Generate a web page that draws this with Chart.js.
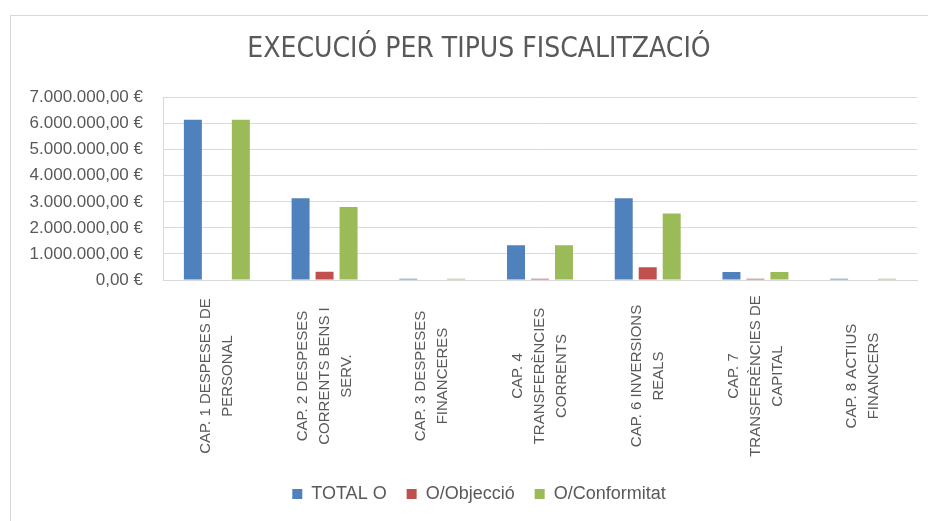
<!DOCTYPE html>
<html>
<head>
<meta charset="utf-8">
<script src="https://cdn.jsdelivr.net/npm/chart.js@4.4.1/dist/chart.umd.min.js"></script>
<style>
  html, body { margin: 0; padding: 0; background: #ffffff; }
  #wrap { position: relative; width: 928px; height: 521px; overflow: hidden; }
  #frame {
    position: absolute; left: 10px; top: 15px; right: -5px; bottom: -5px;
    border-top: 1px solid #d9d9d9; border-left: 1px solid #d9d9d9;
  }
  #chart { position: absolute; left: 0; top: 0; }
</style>
</head>
<body>
<div id="wrap">
  <div id="frame"></div>
  <canvas id="chart" width="928" height="521"></canvas>
</div>
<script>
const categories = [
  ['CAP. 1 DESPESES DE', 'PERSONAL'],
  ['CAP. 2 DESPESES', 'CORRENTS BENS I', 'SERV.'],
  ['CAP. 3 DESPESES', 'FINANCERES'],
  ['CAP. 4', 'TRANSFERÈNCIES', 'CORRENTS'],
  ['CAP. 6 INVERSIONS', 'REALS'],
  ['CAP. 7', 'TRANSFERÈNCIES DE', 'CAPITAL'],
  ['CAP. 8 ACTIUS', 'FINANCERS'],
];

const seriesNames = ['TOTAL O', 'O/Objecció', 'O/Conformitat'];
const totalO = [6150000, 3140000, 50000, 1330000, 3140000, 310000, 50000];
const objeccio = [0, 320000, 0, 50000, 490000, 50000, 0];
const conformitat = [6150000, 2800000, 50000, 1330000, 2550000, 310000, 50000];

const yMax = 7000000;
const yStep = 1000000;

const textColor = '#595959';
const gridColor = '#d9d9d9';

// 1234567 -> "1.234.567,00 €"
function euro(v) {
  const parts = v.toFixed(2).split('.');
  return parts[0].replace(/\B(?=(\d{3})+(?!\d))/g, '.') + ',' + parts[1] + ' €';
}

// rotated category labels, lines centred like in Excel
const centeredXLabels = {
  id: 'centeredXLabels',
  afterDraw(chart) {
    const ctx = chart.ctx;
    const xs = chart.scales.x;
    const midY = xs.top + 96;
    ctx.save();
    ctx.font = '15px "Liberation Sans", Arial, sans-serif';
    ctx.fillStyle = textColor;
    ctx.textAlign = 'center';
    ctx.textBaseline = 'middle';
    categories.forEach((lines, i) => {
      const cx = xs.getPixelForValue(i);
      lines.forEach((line, k) => {
        const lx = cx + (k - (lines.length - 1) / 2) * 22;
        ctx.save();
        ctx.translate(lx, midY);
        ctx.rotate(-Math.PI / 2);
        ctx.fillText(line, 0, 0);
        ctx.restore();
      });
    });
    ctx.restore();
  },
};

// title and legend sit a bit right of the full width centre in the original
const shiftHeaderFooter = {
  id: 'shiftHeaderFooter',
  afterLayout(chart) {
    chart.titleBlock.left += 26;
    chart.legend.left += 26;
  },
};

new Chart(document.getElementById('chart').getContext('2d'), {
  type: 'bar',
  data: {
    labels: categories,
    datasets: [
      { label: seriesNames[0], data: totalO, backgroundColor: '#4f81bd' },
      { label: seriesNames[1], data: objeccio, backgroundColor: '#c0504d' },
      { label: seriesNames[2], data: conformitat, backgroundColor: '#9bbb59' },
    ],
  },
  options: {
    responsive: false,
    animation: false,
    layout: {
      padding: { left: 15, right: 11, top: 0, bottom: 8 },
    },
    datasets: {
      bar: {
        categoryPercentage: 0.668,
        barPercentage: 0.75,
      },
    },
    scales: {
      x: {
        grid: { display: false },
        border: { color: gridColor },
        ticks: { display: false },
        afterFit: (scale) => {
          scale.height = 185;
        },
      },
      y: {
        min: 0,
        max: yMax,
        grid: { color: gridColor, drawTicks: false },
        border: { color: gridColor },
        ticks: {
          stepSize: yStep,
          padding: 20,
          color: textColor,
          font: { family: '"Liberation Sans", Arial, sans-serif', size: 17 },
          callback: (v) => euro(v),
        },
        afterFit: (scale) => {
          scale.width = 148;
        },
      },
    },
    plugins: {
      title: {
        display: true,
        text: 'EXECUCIÓ PER TIPUS FISCALITZACIÓ',
        color: textColor,
        font: {
          family: '"Liberation Sans Narrow", "DejaVu Sans Condensed", "Liberation Sans", sans-serif',
          size: 28,
          weight: 'normal',
          lineHeight: 1.2,
        },
        padding: { top: 33, bottom: 31 },
      },
      legend: {
        position: 'bottom',
        labels: {
          boxWidth: 10,
          boxHeight: 10,
          padding: 20,
          color: textColor,
          font: { family: '"Liberation Sans", Arial, sans-serif', size: 18 },
        },
      },
      tooltip: { enabled: false },
    },
  },
  plugins: [centeredXLabels, shiftHeaderFooter],
});
</script>
</body>
</html>
